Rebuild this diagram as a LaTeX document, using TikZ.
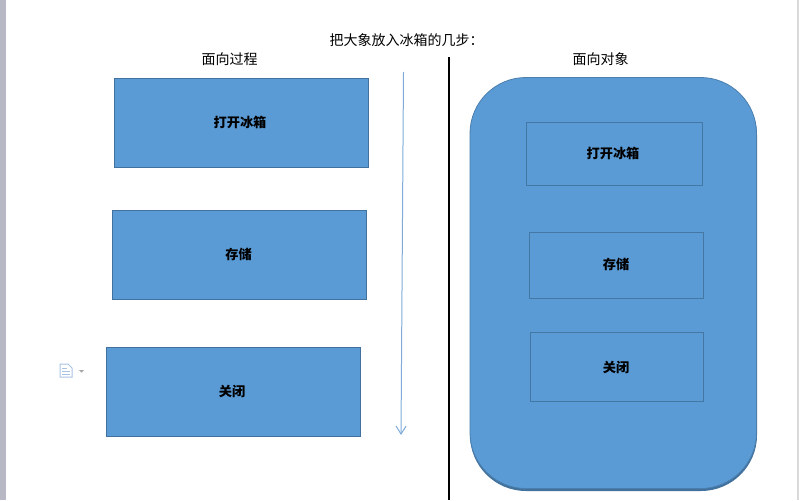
\documentclass[tikz,border=0pt]{standalone}
\usepackage{fontspec}
\setmainfont{Noto Sans CJK SC}
\usetikzlibrary{arrows.meta}
\definecolor{boxblue}{HTML}{5B9BD5}
\definecolor{boxedge}{HTML}{41719C}
\definecolor{arrowblue}{HTML}{7FABD8}
\definecolor{sidegray}{HTML}{B8B7C4}
\definecolor{icongray}{HTML}{A9C3E4}
\tikzset{
  bluebox/.style={draw=boxedge,line width=0.8pt,fill=boxblue,anchor=north west,inner sep=0pt},
  flatbox/.style={bluebox,draw=boxedge!85!boxblue,line width=0.6pt},
  boxtext/.style={font=\fontsize{13.2}{15}\selectfont,text=black},
  head/.style={font=\fontsize{14}{16}\selectfont,text=black,inner sep=0pt}
}
\begin{document}
\begin{tikzpicture}[x=1pt,y=-1pt]
\useasboundingbox (0,0) rectangle (799,500);
\fill[white] (0,0) rectangle (799,500);
\fill[sidegray] (0,0) rectangle (6,500);
\fill[gray!30] (797,0) rectangle (799,500);

\node[head] (title) at (406.5,40) {把大象放入冰箱的几步：};
\node[head] (proc) at (229.5,59.3) {面向过程};
\node[head] (obj) at (600.5,59.3) {面向对象};

\node[bluebox,minimum width=254pt,minimum height=88.5pt] (a1) at (114,78.5) {};
\node[boxtext] at (240,122) {\textbf{打开冰箱}};
\node[bluebox,minimum width=254pt,minimum height=88.5pt] (a2) at (112,210) {};
\node[boxtext] at (238.5,254) {\textbf{存储}};
\node[bluebox,minimum width=254pt,minimum height=88.5pt] (a3) at (106,347) {};
\node[boxtext] at (232,391) {\textbf{关闭}};

\coordinate (arrS) at (403.5,72);
\coordinate (arrE) at (401,435);
\draw[arrowblue,line width=1pt,-{Straight Barb[length=8pt,width=10pt]}] (arrS) -- (arrE);

\coordinate (divS) at (449,57);
\coordinate (divE) at (449,500);
\draw[black,line width=2pt] (divS) -- (divE);

\fill[boxedge] (470,79.5) [rounded corners=56pt] rectangle (757,491);
\draw[draw=boxedge!70!boxblue,fill=boxblue,line width=0.8pt,rounded corners=56pt] (470,77.5) rectangle (756.5,488.5);

\node[flatbox,minimum width=176pt,minimum height=63pt] (b1) at (526,122) {};
\node[boxtext] at (613,153) {\textbf{打开冰箱}};
\node[flatbox,minimum width=174pt,minimum height=66pt] (b2) at (529,232) {};
\node[boxtext] at (616,264) {\textbf{存储}};
\node[flatbox,minimum width=173pt,minimum height=69pt] (b3) at (530,332) {};
\node[boxtext] at (616,367) {\textbf{关闭}};

% document icon
\draw[icongray,line width=1pt,fill=white] (60,364) -- (68,364) -- (72,368) -- (72,377) -- (60,377) -- cycle;
\draw[icongray,line width=0.8pt] (62,368) -- (67,368) (62,371) -- (70,371) (62,374) -- (70,374);
\fill[gray!70] (79,370) -- (84,370) -- (81.5,372.5) -- cycle;
\end{tikzpicture}
\end{document}
